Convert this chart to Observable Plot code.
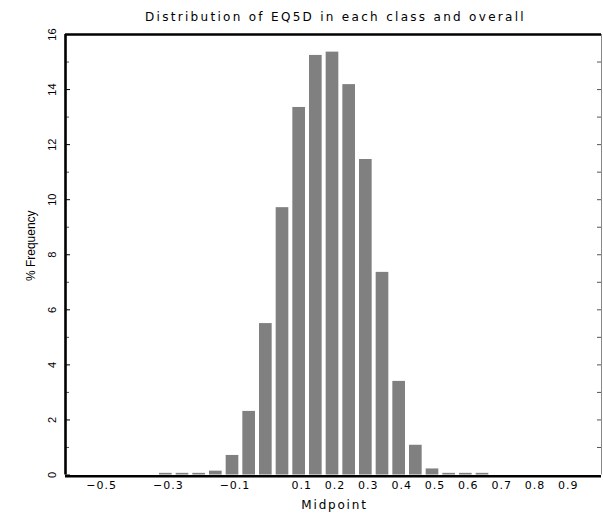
<!DOCTYPE html>
<html>
<head>
<meta charset="utf-8">
<script src="https://cdn.jsdelivr.net/npm/d3@7"></script>
<script src="https://cdn.jsdelivr.net/npm/@observablehq/plot@0.6"></script>
<style>
  html, body { margin: 0; padding: 0; background: #fff; }
</style>
</head>
<body>
<div id="chart"></div>
<script>
// ---- data ----
const titleText = "Distribution of EQ5D in each class and overall";
const xLabelText = "Midpoint";
const yLabelText = "% Frequency";

const midpoints = [-0.30, -0.25, -0.20, -0.15, -0.10, -0.05, 0.00, 0.05, 0.10, 0.15,
                   0.20, 0.25, 0.30, 0.35, 0.40, 0.45, 0.50, 0.55, 0.60, 0.65];
const freq = [0.06, 0.06, 0.06, 0.14, 0.71, 2.31, 5.5, 9.71, 13.35, 15.24,
              15.36, 14.18, 11.46, 7.36, 3.4, 1.08, 0.22, 0.06, 0.06, 0.06];

const xTickValues = [-0.5, -0.3, -0.1, 0.1, 0.2, 0.3, 0.4, 0.5, 0.6, 0.7, 0.8, 0.9];
const xTickLabels = ["\u22120.5", "\u22120.3", "\u22120.1", "0.1", "0.2", "0.3", "0.4", "0.5", "0.6", "0.7", "0.8", "0.9"];
const yMajor = [0, 2, 4, 6, 8, 10, 12, 14, 16];
const yMinor = [1, 3, 5, 7, 9, 11, 13, 15];
const yAll = [1, 2, 3, 4, 5, 6, 7, 8, 9, 10, 11, 12, 13, 14, 15];

const xDomain = [-0.601, 1.007];
const yDomain = [0, 16];
const binWidth = 0.05;

const table = midpoints.map((m, i) => ({mid: m, freq: freq[i]}));

// ---- layout ----
const W = 603, H = 514;
const mL = 65, mR = 2, mT = 34, mB = 39.5;
const plotW = W - mL - mR;

const geo = "DejaVu Sans";
const narrow = "Liberation Sans";

const chart = Plot.plot({
  width: W,
  height: H,
  marginLeft: mL,
  marginRight: mR,
  marginTop: mT,
  marginBottom: mB,
  style: {fontFamily: narrow, background: "#fff", color: "#000"},
  x: {domain: xDomain, axis: null},
  y: {domain: yDomain, axis: null},
  marks: [
    Plot.rectY(table, {
      x1: d => d.mid - binWidth / 2,
      x2: d => d.mid + binWidth / 2,
      y1: 0,
      y2: "freq",
      insetLeft: 2,
      insetRight: 2,
      fill: "#808080"
    }),
    // left ticks (inward)
    Plot.tickY(yMajor, {y: d => d, insetRight: plotW - 5, stroke: "#000", strokeWidth: 1}),
    Plot.tickY(yMinor, {y: d => d, insetRight: plotW - 4, stroke: "#555", strokeWidth: 1}),
    // right ticks (inward)
    Plot.tickY(yAll, {y: d => d, insetLeft: plotW - 4, stroke: "#555", strokeWidth: 1}),
    // frame
    Plot.ruleX([xDomain[1]], {stroke: "#888", strokeWidth: 1}),
    Plot.ruleY([yDomain[1]], {stroke: "#000", strokeWidth: 2.6}),
    Plot.ruleY([yDomain[0]], {stroke: "#000", strokeWidth: 2.6, dy: 1.2}),
    Plot.ruleX([xDomain[0]], {stroke: "#000", strokeWidth: 2.6}),
    // y tick labels (rotated)
    Plot.text(yMajor, {
      y: d => d, text: d => String(d), frameAnchor: "left", dx: -13.5,
      rotate: -90, textAnchor: "middle", lineAnchor: "middle",
      fontFamily: narrow, fontSize: 11, fill: "#000"
    }),
    // y label
    Plot.text([yLabelText], {
      text: d => d, frameAnchor: "left", dx: -34, dy: -9,
      rotate: -90, textAnchor: "middle", lineAnchor: "middle",
      fontFamily: narrow, fontSize: 12, fill: "#000"
    }),
    // x tick labels
    Plot.text(xTickValues, {
      x: d => d, text: (d, i) => xTickLabels[i], frameAnchor: "bottom", dy: 10.5, dx: 2.5,
      textAnchor: "middle", lineAnchor: "middle",
      fontFamily: geo, fontSize: 11, fill: "#000",
      letterSpacing: 1
    }),
    // x label
    Plot.text([xLabelText], {
      text: d => d, frameAnchor: "bottom", dy: 30.5, dx: 1,
      textAnchor: "middle", lineAnchor: "middle",
      fontFamily: geo, fontSize: 12, fill: "#000"
    }),
    // title
    Plot.text([titleText], {
      text: d => d, frameAnchor: "top", dy: -17.5, dx: 2,
      textAnchor: "middle", lineAnchor: "middle",
      fontFamily: geo, fontSize: 12, fill: "#000"
    })
  ]
});

// letter spacing for the geometric-looking texts
d3.select(chart).selectAll("text").each(function () {
  const t = this.textContent;
  if (t === titleText) this.setAttribute("letter-spacing", "2.3");
  else if (t === xLabelText) this.setAttribute("letter-spacing", "1.8");
  else if (xTickLabels.includes(t)) this.setAttribute("letter-spacing", "1");
});

document.getElementById("chart").appendChild(chart);
</script>
</body>
</html>
